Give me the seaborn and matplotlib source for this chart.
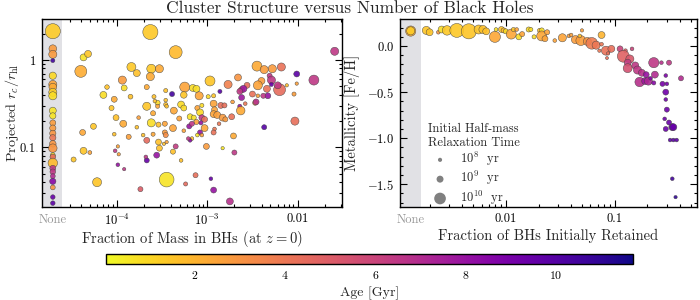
import numpy as np
import pandas as pd
import matplotlib
matplotlib.use('Agg')
import matplotlib.pyplot as plt
import matplotlib.transforms as mtransforms
import seaborn as sns
from matplotlib.ticker import FixedLocator, NullFormatter, FuncFormatter, MultipleLocator, LogLocator
from matplotlib.colors import Normalize
from matplotlib.cm import ScalarMappable

# ---------------- data ----------------
# Left panel: clusters with BHs -> log10 of mass fraction in BHs, log10 of r_c/r_hl
left_log_fbh = [-4.37, -4.32, -4.40, -3.63, -3.35, -3.84, -3.78, -3.62, -3.53, -3.63,
                -3.94, -4.11, -3.92, -4.15, -4.03, -3.85, -3.67, -3.59, -3.55, -3.46,
                -3.46, -3.39, -3.67, -3.25, -3.16, -3.26, -3.29, -3.26, -3.37, -4.06,
                -3.60, -3.46, -3.58, -3.55, -3.45,
                -1.59, -2.45, -2.37, -2.28, -2.18, -2.01, -1.82, -2.31, -2.29, -2.40,
                -2.44, -2.34, -2.20, -2.22, -2.12, -2.01, -2.04, -2.29, -2.33, -2.38,
                -2.44, -2.47, -2.46, -2.50, -2.56, -2.62, -2.60, -2.64, -2.62, -2.66,
                -2.77, -2.97, -3.12, -3.09, -2.99, -2.93, -2.86, -2.72, -2.93, -2.85,
                -2.81, -2.64, -2.58, -2.63, -3.06, -3.11, -3.08, -2.92,
                -3.19, -3.15, -3.06, -3.03, -3.12, -3.07, -2.93, -2.89, -2.83, -2.80,
                -2.73, -2.87, -3.03, -2.92, -2.93, -3.08, -3.06, -3.11, -3.17, -3.19,
                -2.71, -2.37, -2.03, -3.01, -2.83, -2.70, -3.13, -2.96, -2.93, -2.75,
                -4.01, -3.93, -3.76, -4.26, -4.38, -4.03, -3.87, -3.78, -3.62, -3.54,
                -3.47, -3.31, -3.38, -3.47, -3.46, -3.60, -3.71, -3.67, -3.54, -3.48,
                -3.45, -3.35, -3.53, -3.56, -3.67, -3.68, -3.38, -3.29, -3.26, -3.20,
                -3.17, -3.21, -4.37, -4.30, -4.48, -3.99, -4.02, -3.99, -3.92, -4.22,
                -3.45, -3.74, -3.24, -3.98]
left_log_rc = [0.03, 0.07, -0.13, 0.32, 0.09, -0.08, -0.15, -0.10, -0.10, -0.19,
               -0.23, -0.31, -0.32, -0.40, -0.45, -0.42, -0.31, -0.42, -0.49, -0.51,
               -0.35, -0.39, -0.53, -0.31, -0.32, -0.40, -0.51, -0.55, -0.58, -0.55,
               -0.61, -0.46, -0.47, -0.53, -0.53,
               0.10, -0.07, -0.11, -0.10, -0.08, -0.16, -0.23, -0.18, -0.23, -0.24,
               -0.29, -0.33, -0.34, -0.29, -0.29, -0.27, -0.39, -0.28, -0.41, -0.41,
               -0.41, -0.49, -0.48, -0.39, -0.29, -0.34, -0.33, -0.36, -0.43, -0.20,
               -0.28, -0.24, -0.33, -0.41, -0.42, -0.41, -0.36, -0.48, -0.50, -0.52,
               -0.52, -0.53, -0.50, -0.58, -0.52, -0.55, -0.60, -0.57,
               -0.65, -0.66, -0.66, -0.68, -0.71, -0.72, -0.62, -0.63, -0.66, -0.68,
               -0.65, -0.73, -0.78, -0.79, -0.83, -0.83, -0.86, -0.86, -0.90, -0.92,
               -0.87, -0.77, -0.70, -0.99, -1.01, -1.06, -1.32, -1.36, -1.49, -1.62,
               -0.66, -0.73, -0.66, -0.76, -0.83, -0.85, -0.88, -0.77, -0.72, -0.74,
               -0.73, -0.67, -0.78, -0.83, -0.86, -0.85, -0.86, -0.92, -0.94, -0.96,
               -0.94, -0.99, -1.01, -1.09, -1.15, -1.11, -1.05, -1.15, -0.81, -0.76,
               -0.73, -0.90, -1.04, -1.06, -1.14, -0.99, -1.04, -1.20, -1.25, -1.40,
               -1.37, -1.48, -1.42, -1.08]
left_age = [0.7, 1.5, 2.2, 1.4, 1.8, 1.4, 1.6, 1.4, 2.3, 2.3,
            2.8, 1.6, 0.8, 0.8, 2.3, 1.6, 2.3, 1.6, 0.9, 1.6,
            1.6, 10.5, 1.5, 2.5, 0.8, 1.5, 0.9, 0.9, 2.4, 1.5,
            2.3, 1.6, 1.6, 2.4, 1.6,
            6.5, 2.3, 2.7, 2.8, 4.2, 9.8, 6.5, 6.5, 6.5, 2.7,
            2.5, 4.2, 4.4, 6.5, 1.7, 2.6, 2.7, 9.5, 8.0, 6.5,
            2.5, 2.6, 6.8, 4.2, 4.3, 4.5, 7.8, 6.5, 7.8, 3.0,
            3.6, 1.5, 0.8, 2.5, 0.9, 1.5, 10.0, 2.6, 2.5, 4.3,
            4.3, 8.0, 4.0, 2.3, 0.9, 2.5, 1.0, 2.5,
            0.7, 0.7, 6.5, 4.3, 2.5, 8.0, 2.5, 2.6, 2.8, 2.8,
            4.2, 4.0, 2.4, 4.0, 4.2, 8.0, 2.6, 0.7, 1.6, 8.5,
            2.3, 10.0, 4.3, 2.8, 0.6, 6.5, 4.3, 9.5, 8.0, 6.8,
            1.6, 2.3, 2.6, 1.5, 2.4, 1.6, 2.6, 1.6, 0.8, 1.6,
            2.5, 2.5, 2.5, 2.8, 3.2, 2.4, 1.6, 4.5, 1.6, 1.6,
            2.5, 6.3, 1.6, 8.0, 9.5, 6.5, 1.6, 1.6, 2.5, 8.0,
            6.5, 6.5, 1.5, 2.5, 1.5, 2.5, 6.5, 8.0, 6.5, 1.5,
            0.6, 5.0, 4.5, 2.6]
left_log_trh = [9.0, 9.0, 10.05, 10.5, 10.2, 9.5, 9.0, 9.5, 9.3, 9.3,
                9.3, 8.2, 8.7, 9.0, 8.7, 8.3, 8.4, 8.0, 8.4, 8.0,
                8.0, 8.4, 9.3, 9.7, 9.0, 8.9, 9.0, 8.7, 9.0, 8.4,
                8.4, 7.8, 7.8, 8.0, 7.8,
                9.3, 9.7, 9.3, 9.3, 9.3, 8.7, 9.7, 8.4, 9.3, 9.0,
                9.5, 9.0, 10.05, 9.0, 7.6, 7.6, 8.0, 8.0, 8.7, 8.4,
                7.8, 8.4, 8.7, 8.7, 8.7, 8.7, 9.0, 8.7, 8.7, 9.0,
                9.3, 9.7, 9.0, 9.3, 8.0, 8.0, 8.0, 7.8, 9.0, 8.7,
                8.4, 8.0, 7.8, 9.4, 8.0, 8.4, 9.0, 8.7,
                8.7, 8.4, 8.7, 8.7, 8.4, 8.0, 9.0, 9.0, 9.0, 8.4,
                8.7, 7.8, 9.0, 7.8, 8.4, 8.4, 7.8, 7.8, 7.8, 7.8,
                8.7, 8.4, 9.3, 8.7, 7.6, 8.4, 8.4, 7.8, 8.7, 9.0,
                8.7, 9.0, 7.8, 8.7, 8.7, 7.8, 8.4, 7.8, 9.3, 8.4,
                8.4, 8.4, 9.0, 8.4, 8.4, 8.0, 7.8, 8.7, 8.7, 7.6,
                7.6, 8.4, 8.7, 8.7, 8.4, 7.8, 8.4, 7.8, 7.8, 8.4,
                8.4, 7.8, 9.0, 7.9, 8.4, 7.6, 7.8, 7.8, 7.6, 9.5,
                10.45, 8.4, 8.0, 7.6]

# Left panel: clusters with no BHs ("None")
none_left_log_rc = [0.33, 0.13, 0.065, -0.006, -0.18, -0.28, -0.31, -0.37, -0.41, -0.58,
                    -0.64, -0.72, -0.78, -0.84, -0.89, -0.96, -1.01, -1.09, -1.11, -1.18,
                    -1.24, -1.28, -1.33, -1.39, -1.46, -1.57, -1.64]
none_left_age = [1.3, 2.8, 2.8, 10.5, 1.0, 2.5, 2.3, 1.2, 0.8, 0.6,
                 0.6, 2.7, 2.8, 3.0, 4.0, 3.0, 3.0, 0.6, 4.5, 1.8,
                 6.5, 6.5, 7.0, 8.5, 3.0, 9.5, 9.8]
none_left_log_trh = [10.5, 9.2, 9.3, 8.0, 9.1, 9.3, 9.2, 9.3, 9.3, 9.0,
                     8.8, 8.7, 8.8, 8.8, 8.8, 8.9, 9.4, 8.3, 8.6, 9.6,
                     8.7, 8.6, 8.3, 8.8, 8.3, 8.2, 8.2]

# Right panel: log10 fraction of BHs retained, [Fe/H]
right_log_fret = [-2.73, -2.70, -2.62, -2.59, -2.54, -2.45, -2.34, -2.25, -2.21, -2.18,
                  -2.10, -2.09, -2.04, -2.02, -2.00, -1.95, -1.93, -1.90, -1.88, -1.85,
                  -1.79, -1.77, -1.74, -1.69, -1.67, -1.67, -1.64, -1.62, -1.55, -1.48,
                  -1.42, -1.40, -1.36, -1.31, -1.30, -1.32, -1.25, -1.21, -1.17, -1.12,
                  -1.12, -1.14, -1.08, -1.03, -1.06, -1.07, -0.95, -0.90, -0.84, -0.92,
                  -0.86, -0.88, -0.88, -0.81, -0.79, -0.75, -0.64, -0.57, -0.50, -0.71,
                  -0.63, -0.77, -0.72, -0.69, -0.64, -0.67, -0.53, -0.56, -0.52, -0.39,
                  -0.53, -0.53, -0.52, -0.54, -0.50, -0.53, -0.47, -0.46, -0.49, -0.46,
                  -0.43, -0.47, -0.44]
right_feh = [0.17, 0.15, 0.15, 0.18, 0.17, 0.17, 0.16, 0.18, 0.18, 0.16,
             0.10, 0.18, 0.18, 0.17, 0.16, 0.13, 0.18, 0.18, 0.10, 0.13,
             0.18, 0.18, 0.10, 0.17, 0.17, 0.11, 0.08, 0.15, 0.06, 0.09,
             0.11, 0.12, 0.07, 0.06, 0.17, 0.11, 0.05, 0.03, 0.01, 0.12,
             0.02, -0.05, -0.05, -0.03, -0.08, -0.13, -0.03, -0.05, -0.03, -0.11,
             -0.14, -0.18, -0.24, -0.21, -0.26, -0.29, -0.18, -0.18, -0.18, -0.31,
             -0.31, -0.39, -0.38, -0.38, -0.40, -0.35, -0.32, -0.41, -0.41, -0.35,
             -0.50, -0.58, -0.69, -0.79, -0.83, -0.90, -0.88, -0.88, -1.02, -1.02,
             -1.02, -1.44, -1.64]
right_age = [1.5, 1.5, 3.0, 0.8, 1.4, 1.4, 1.5, 1.5, 1.6, 1.6,
             2.4, 0.7, 1.6, 1.8, 0.9, 2.4, 1.5, 2.5, 0.8, 2.5,
             1.0, 0.8, 0.8, 1.6, 0.8, 2.4, 2.5, 2.5, 2.5, 2.5,
             2.6, 2.6, 2.7, 2.7, 2.6, 1.6, 3.0, 3.8, 4.0, 2.0,
             4.0, 4.0, 4.2, 4.3, 4.3, 4.3, 6.0, 4.8, 6.0, 4.8,
             5.2, 6.3, 5.5, 6.5, 6.5, 6.8, 6.5, 6.8, 6.5, 8.0,
             7.0, 6.8, 7.8, 7.2, 8.5, 8.5, 8.8, 9.0, 9.0, 7.0,
             9.2, 9.2, 9.3, 9.3, 9.4, 9.4, 9.5, 9.5, 9.8, 9.8,
             9.8, 10.5, 11.0]
right_log_trh = [9.3, 9.0, 7.8, 9.0, 9.6, 10.35, 10.5, 9.5, 9.3, 9.0,
                 9.9, 7.8, 8.7, 8.4, 8.4, 9.7, 8.0, 7.8, 8.7, 8.4,
                 8.4, 8.0, 8.0, 8.0, 8.4, 9.7, 8.7, 8.4, 7.8, 9.3,
                 7.8, 7.8, 9.3, 9.7, 7.6, 7.8, 9.3, 10.0, 9.3, 9.0,
                 7.8, 7.6, 9.5, 9.0, 7.6, 7.4, 8.7, 7.8, 7.8, 10.05,
                 9.3, 9.0, 9.5, 9.0, 9.3, 9.0, 9.75, 7.8, 8.4, 8.7,
                 9.0, 9.6, 9.0, 9.3, 8.0, 7.8, 7.8, 8.4, 7.8, 8.4,
                 8.7, 7.8, 8.4, 7.8, 8.4, 8.4, 9.0, 9.0, 7.8, 7.8,
                 7.8, 7.8, 7.6]

# Right panel: clusters with no retained BHs ("None")
none_right_feh = [0.163, 0.165]
none_right_age = [2.2, 1.3]
none_right_log_trh = [9.75, 9.3]

legend_log_trh = [8, 9, 10]
legend_labels = [r'$10^{8}$  yr', r'$10^{9}$  yr', r'$10^{10}$  yr']
cbar_ticks = [2, 4, 6, 8, 10]
AGE_MIN, AGE_MAX = 0.05, 11.7

# ---------------- style ----------------
sns.set_theme(style='ticks')
plt.rcParams['font.family'] = ['cmr10', 'DejaVu Serif']
plt.rcParams['mathtext.fontset'] = 'cm'
plt.rcParams['axes.formatter.use_mathtext'] = True
plt.rcParams['axes.unicode_minus'] = False
plt.rcParams['axes.edgecolor'] = 'black'
plt.rcParams['axes.linewidth'] = 1.0

def area(log_t):
    return 25.0 * 10 ** (0.45 * (np.asarray(log_t, dtype=float) - 9.0))

norm = Normalize(AGE_MIN, AGE_MAX)
CMAP = 'plasma_r'
BAND = '#e1e1e5'
EDGE = (0.25, 0.25, 0.25, 0.6)

fig = plt.figure(figsize=(7, 3), dpi=100)
axL = fig.add_axes([0.0593, 0.31, 0.4286, 0.6267])
axR = fig.add_axes([0.5710, 0.31, 0.4247, 0.6267])
cax = fig.add_axes([0.152, 0.12, 0.752, 0.033])

L_XLIM = (10 ** -4.835, 10 ** -1.514)
L_BAND = 10 ** -4.607
L_NONE = 10 ** -4.71
L_YLIM = (10 ** -1.684, 10 ** 0.47)

R_XLIM = (10 ** -2.975, 10 ** -0.243)
R_BAND = 10 ** -2.782
R_NONE = 10 ** -2.874
R_YLIM = (-1.747, 0.294)

def scatter(ax, x, y, age, logt):
    df = pd.DataFrame({'x': x, 'y': y, 'age': age, 'area': area(logt)})
    sns.scatterplot(data=df, x='x', y='y', hue='age', palette=CMAP, hue_norm=norm,
                    size='area', sizes=(1, 200), size_norm=(1, 200), legend=False,
                    ax=ax, edgecolor=EDGE, linewidth=0.35, alpha=0.9, zorder=3)

# ----- left -----
axL.axvspan(L_XLIM[0], L_BAND, color=BAND, zorder=0, lw=0)
scatter(axL, [L_NONE] * len(none_left_log_rc), 10 ** np.array(none_left_log_rc),
        none_left_age, none_left_log_trh)
scatter(axL, 10 ** np.array(left_log_fbh), 10 ** np.array(left_log_rc),
        left_age, left_log_trh)
axL.set_xscale('log'); axL.set_yscale('log')
axL.set_xlim(*L_XLIM); axL.set_ylim(*L_YLIM)
axL.xaxis.set_major_locator(FixedLocator([1e-4, 1e-3, 1e-2]))
axL.set_xticklabels([r'$10^{-4}$', r'$10^{-3}$', '0.01'])
minL = [k * 10.0 ** e for e in range(-5, -1) for k in range(2, 10)]
minL = [m for m in minL if L_BAND < m < L_XLIM[1]]
axL.xaxis.set_minor_locator(FixedLocator(minL))
axL.xaxis.set_minor_formatter(NullFormatter())
axL.yaxis.set_major_locator(FixedLocator([0.1, 1]))
axL.set_yticklabels(['0.1', '1'])
axL.yaxis.set_minor_locator(LogLocator(base=10, subs=range(2, 10)))
axL.yaxis.set_minor_formatter(NullFormatter())
axL.set_xlabel(r'Fraction of Mass in BHs (at $z=0$)', fontsize=10.5)
axL.set_ylabel(r'Projected $r_c/r_{\rm hl}$', fontsize=10.2)
axL.xaxis.set_label_coords(0.5, -0.115)
axL.yaxis.set_label_coords(-0.07, 0.5)

# ----- right -----
axR.axvspan(R_XLIM[0], R_BAND, color=BAND, zorder=0, lw=0)
scatter(axR, [R_NONE] * len(none_right_feh), none_right_feh, none_right_age, none_right_log_trh)
scatter(axR, 10 ** np.array(right_log_fret), right_feh, right_age, right_log_trh)
axR.set_xscale('log')
axR.set_xlim(*R_XLIM); axR.set_ylim(*R_YLIM)
axR.xaxis.set_major_locator(FixedLocator([1e-2, 1e-1]))
axR.set_xticklabels(['0.01', '0.1'])
minR = [k * 10.0 ** e for e in range(-3, 0) for k in range(2, 10)]
minR = [m for m in minR if R_BAND < m < R_XLIM[1]]
axR.xaxis.set_minor_locator(FixedLocator(minR))
axR.xaxis.set_minor_formatter(NullFormatter())
axR.yaxis.set_major_locator(MultipleLocator(0.5))
axR.yaxis.set_minor_locator(MultipleLocator(0.1))
axR.yaxis.set_major_formatter(FuncFormatter(lambda v, p: '$%.1f$' % v if abs(v) > 1e-9 else '$0.0$'))
axR.set_xlabel('Fraction of BHs Initially Retained', fontsize=10.5)
axR.set_ylabel('Metallicity [Fe/H]', fontsize=10.5)
axR.xaxis.set_label_coords(0.5, -0.115)
axR.yaxis.set_label_coords(-0.132, 0.5)

for ax, nx in ((axL, L_NONE), (axR, R_NONE)):
    ax.tick_params(which='both', direction='in', top=True, right=True, colors='black',
                   labelsize=9, width=0.8)
    ax.tick_params(which='major', length=5, pad=4)
    ax.tick_params(which='minor', length=2.5)
    for s in ax.spines.values():
        s.set_color('black'); s.set_linewidth(1.0)
    tr = mtransforms.blended_transform_factory(ax.transData, ax.transAxes)
    ax.text(nx, -0.035, 'None', transform=tr, ha='center', va='top', fontsize=9, color='0.6')

# size legend
handles = [axR.scatter([], [], s=float(area(l)), color='0.5', edgecolor='none') for l in legend_log_trh]
leg = axR.legend(handles, legend_labels, title='Initial Half-mass\nRelaxation Time',
                 loc='lower left', bbox_to_anchor=(0.06, -0.052), frameon=False,
                 fontsize=9, title_fontsize=9, alignment='left',
                 handletextpad=0.6, labelspacing=0.1, borderpad=0.3)

# colorbar
cb = fig.colorbar(ScalarMappable(norm=norm, cmap=CMAP), cax=cax, orientation='horizontal')
cb.set_ticks(cbar_ticks)
cb.ax.xaxis.set_minor_locator(MultipleLocator(0.5))
cax.tick_params(which='both', direction='in', bottom=True, top=False, colors='black', labelsize=8.5)
cax.tick_params(which='major', length=4)
cax.tick_params(which='minor', length=2)
cb.outline.set_edgecolor('black'); cb.outline.set_linewidth(1.0)
cb.set_label('Age [Gyr]', fontsize=10)

fig.suptitle('Cluster Structure versus Number of Black Holes', fontsize=12.5, y=0.998)

fig.savefig('out.png', dpi=100)
